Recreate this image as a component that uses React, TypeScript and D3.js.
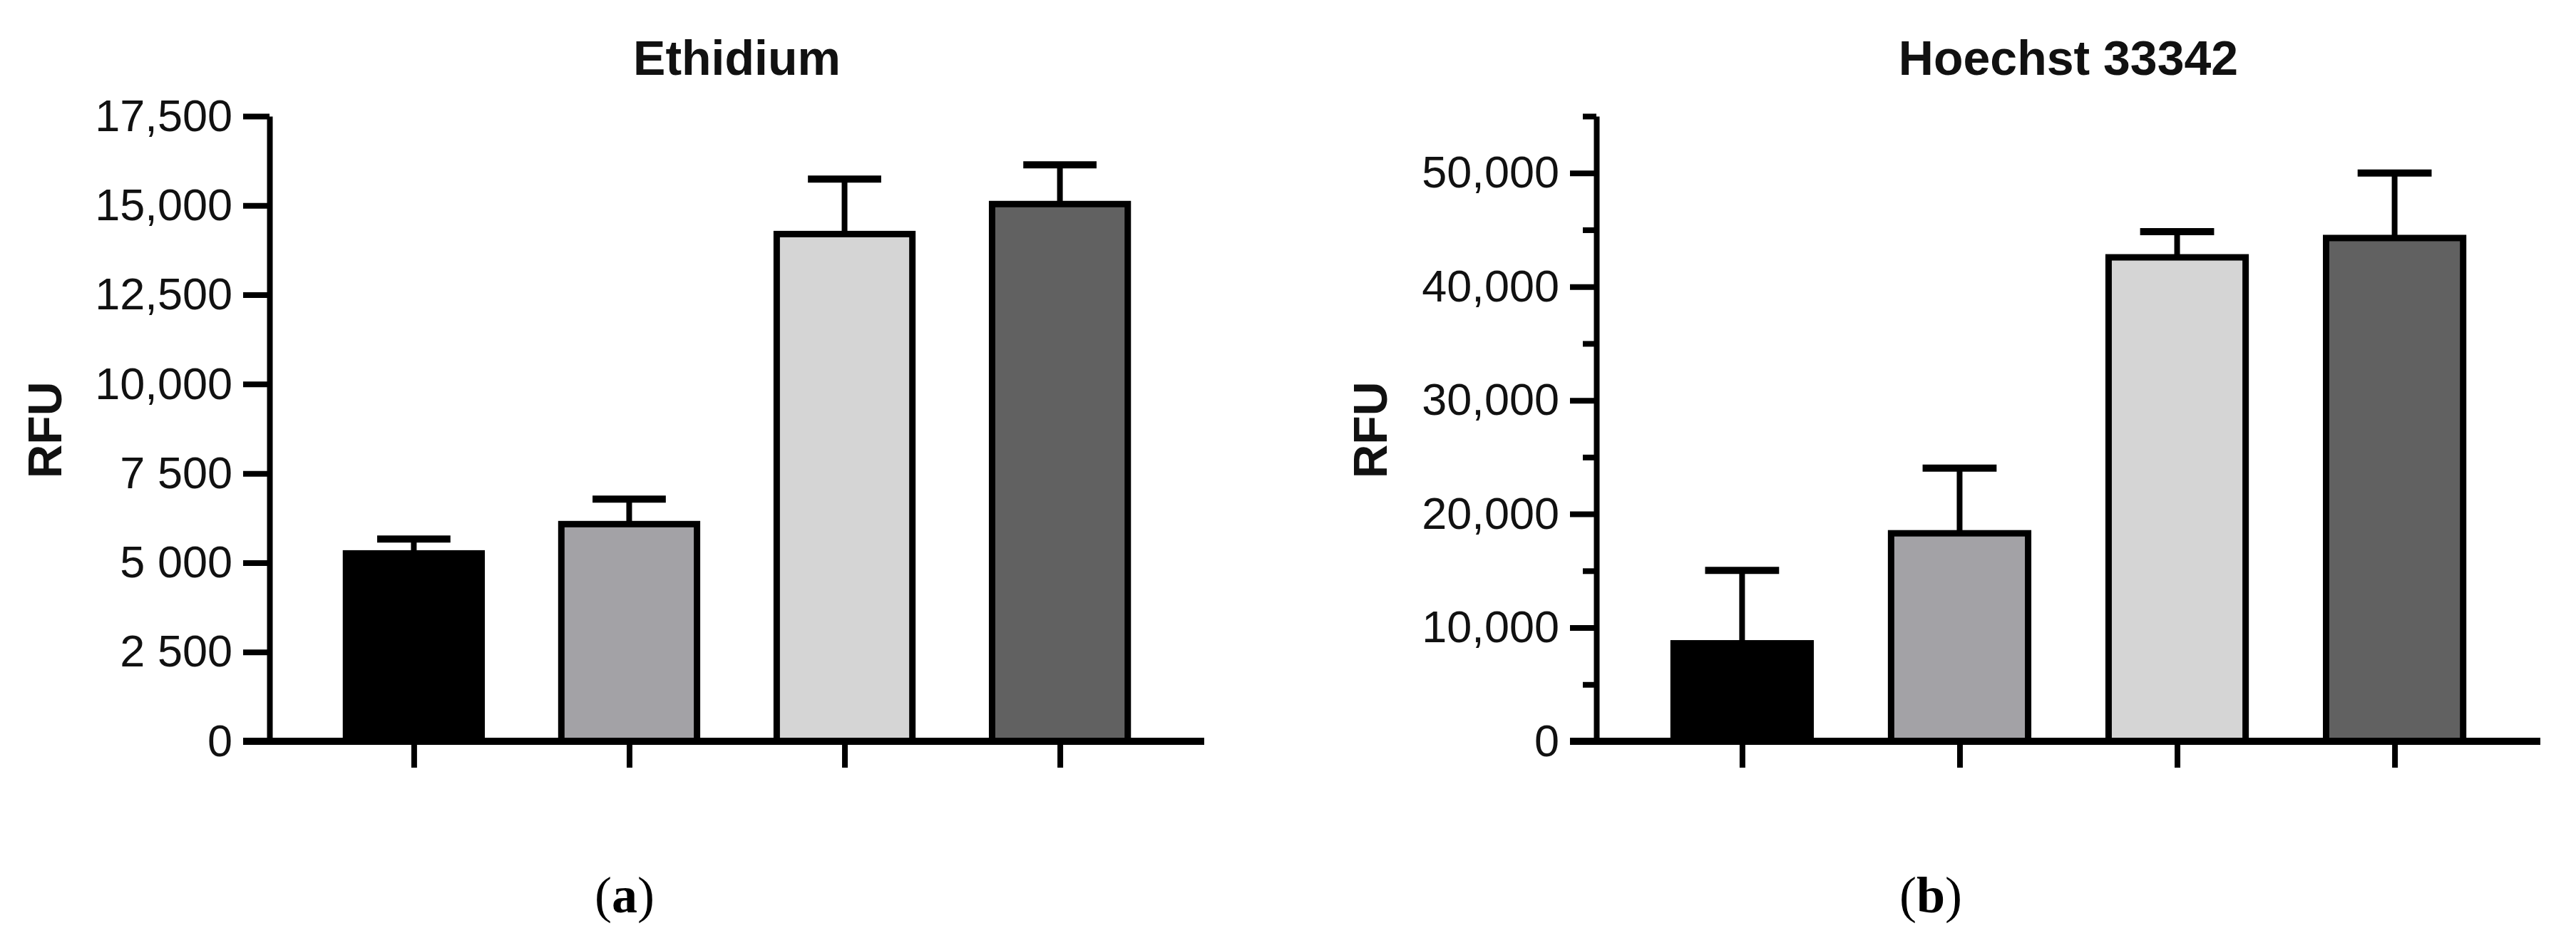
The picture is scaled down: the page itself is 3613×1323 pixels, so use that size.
import React, { useEffect, useRef } from 'react'
import * as d3 from 'd3'

// bar fills, same order in both panels
const barColors = ['#000000', '#a3a2a6', '#d5d5d5', '#616161']
const groups = ['g1', 'g2', 'g3', 'g4']

// (a) Ethidium
const ethidiumMeans = [5260, 6080, 14200, 15040]
const ethidiumErrors = [400, 700, 1540, 1100]
const ethidiumTicks = [0, 2500, 5000, 7500, 10000, 12500, 15000, 17500]
const ethidiumTickLabels = ['0', '2 500', '5 000', '7 500', '10,000', '12,500', '15,000', '17,500']

// (b) Hoechst 33342
const hoechstMeans = [8620, 18300, 42580, 44280]
const hoechstErrors = [6410, 5730, 2260, 5720]
const hoechstTicks = [0, 10000, 20000, 30000, 40000, 50000]
const hoechstTickLabels = ['0', '10,000', '20,000', '30,000', '40,000', '50,000']
const hoechstMinorTicks = [5000, 15000, 25000, 35000, 45000, 55000]

const W = 3613
const H = 1323
const SANS = '"Liberation Sans", Arial, Helvetica, sans-serif'

type Panel = {
  title: string
  letter: string
  means: number[]
  errors: number[]
  ticks: number[]
  tickLabels: string[]
  minor: number[]
  yMax: number
  x0: number
  x1: number
  rfuX: number
  letterX: number
}

const panels: Panel[] = [
  {
    title: 'Ethidium',
    letter: 'a',
    means: ethidiumMeans,
    errors: ethidiumErrors,
    ticks: ethidiumTicks,
    tickLabels: ethidiumTickLabels,
    minor: [],
    yMax: 17500,
    x0: 378,
    x1: 1689,
    rfuX: 86,
    letterX: 876,
  },
  {
    title: 'Hoechst 33342',
    letter: 'b',
    means: hoechstMeans,
    errors: hoechstErrors,
    ticks: hoechstTicks,
    tickLabels: hoechstTickLabels,
    minor: hoechstMinorTicks,
    yMax: 55000,
    x0: 2239,
    x1: 3563,
    rfuX: 1945,
    letterX: 2708,
  },
]

function App() {
  const svgRef = useRef<SVGSVGElement>(null)

  useEffect(() => {
    const svg = d3.select(svgRef.current)
    svg.selectAll('*').remove()

    const yTop = 163
    const yZero = 1040
    const tickLen = 37
    const lw = 8

    panels.forEach((p) => {
      const g = svg.append('g')
      const y = d3.scaleLinear().domain([0, p.yMax]).range([yZero, yTop])
      const x = d3.scalePoint().domain(groups).range([p.x0, p.x1]).padding(0.67)
      const barW = x.step() * 0.63
      const capW = barW * 0.54

      // bars
      g.selectAll('rect.bar')
        .data(p.means)
        .enter()
        .append('rect')
        .attr('class', 'bar')
        .attr('x', (d, i) => (x(groups[i]) as number) - barW / 2)
        .attr('y', (d) => y(d))
        .attr('width', barW)
        .attr('height', (d) => yZero - y(d))
        .attr('fill', (d, i) => barColors[i])
        .attr('stroke', '#000')
        .attr('stroke-width', 9)

      // error bars (upper only)
      const err = g.selectAll('g.err').data(p.means).enter().append('g')
      err
        .append('line')
        .attr('x1', (d, i) => x(groups[i]) as number)
        .attr('x2', (d, i) => x(groups[i]) as number)
        .attr('y1', (d) => y(d))
        .attr('y2', (d, i) => y(d + p.errors[i]))
        .attr('stroke', '#000')
        .attr('stroke-width', lw)
      err
        .append('line')
        .attr('x1', (d, i) => (x(groups[i]) as number) - capW / 2)
        .attr('x2', (d, i) => (x(groups[i]) as number) + capW / 2)
        .attr('y1', (d, i) => y(d + p.errors[i]))
        .attr('y2', (d, i) => y(d + p.errors[i]))
        .attr('stroke', '#000')
        .attr('stroke-width', 10)

      // y axis
      const yAxis = g
        .append('g')
        .attr('transform', `translate(${p.x0},0)`)
        .call(
          d3
            .axisLeft(y)
            .tickValues(p.ticks)
            .tickFormat((d, i) => p.tickLabels[i])
            .tickSize(tickLen)
            .tickSizeOuter(0)
            .tickPadding(15),
        )
      yAxis.select('.domain').attr('stroke-width', lw)
      yAxis.selectAll('.tick line').attr('stroke-width', lw)
      yAxis
        .selectAll('.tick text')
        .attr('font-family', SANS)
        .attr('font-size', 63)
        .attr('fill', '#111')

      if (p.minor.length) {
        const minorAxis = g
          .append('g')
          .attr('transform', `translate(${p.x0},0)`)
          .call(
            d3
              .axisLeft(y)
              .tickValues(p.minor)
              .tickFormat(() => '')
              .tickSize(19)
              .tickSizeOuter(0),
          )
        minorAxis.select('.domain').remove()
        minorAxis.selectAll('.tick line').attr('stroke-width', lw)
      }

      // x axis
      const xAxis = g
        .append('g')
        .attr('transform', `translate(0,${yZero})`)
        .call(d3.axisBottom(x).tickSize(37).tickFormat(() => ''))
      xAxis.select('.domain').remove()
      xAxis.selectAll('.tick line').attr('stroke-width', lw)
      g.append('line')
        .attr('x1', p.x0 - tickLen)
        .attr('x2', p.x1)
        .attr('y1', yZero)
        .attr('y2', yZero)
        .attr('stroke', '#000')
        .attr('stroke-width', 10)

      // title
      g.append('text')
        .attr('x', (p.x0 + p.x1) / 2)
        .attr('y', 105)
        .attr('text-anchor', 'middle')
        .attr('font-family', SANS)
        .attr('font-weight', 'bold')
        .attr('font-size', 68)
        .attr('fill', '#111')
        .text(p.title)

      // y label
      g.append('text')
        .attr('transform', `translate(${p.rfuX},${(yTop + yZero) / 2 + 2}) rotate(-90)`)
        .attr('text-anchor', 'middle')
        .attr('font-family', SANS)
        .attr('font-weight', 'bold')
        .attr('font-size', 66)
        .attr('fill', '#111')
        .text('RFU')

      // panel letter
      const lt = g
        .append('text')
        .attr('x', p.letterX)
        .attr('y', 1280)
        .attr('text-anchor', 'middle')
        .attr('font-family', '"Liberation Serif", "Times New Roman", serif')
        .attr('font-size', 72)
        .attr('fill', '#000')
      lt.append('tspan').text('(')
      lt.append('tspan').attr('font-weight', 'bold').text(p.letter)
      lt.append('tspan').text(')')
    })
  }, [])

  return (
    <div>
      <style>{`body{margin:0;background:#fff}`}</style>
      <svg ref={svgRef} width={W} height={H} style={{ display: 'block', background: '#fff' }} />
    </div>
  )
}

export default App
